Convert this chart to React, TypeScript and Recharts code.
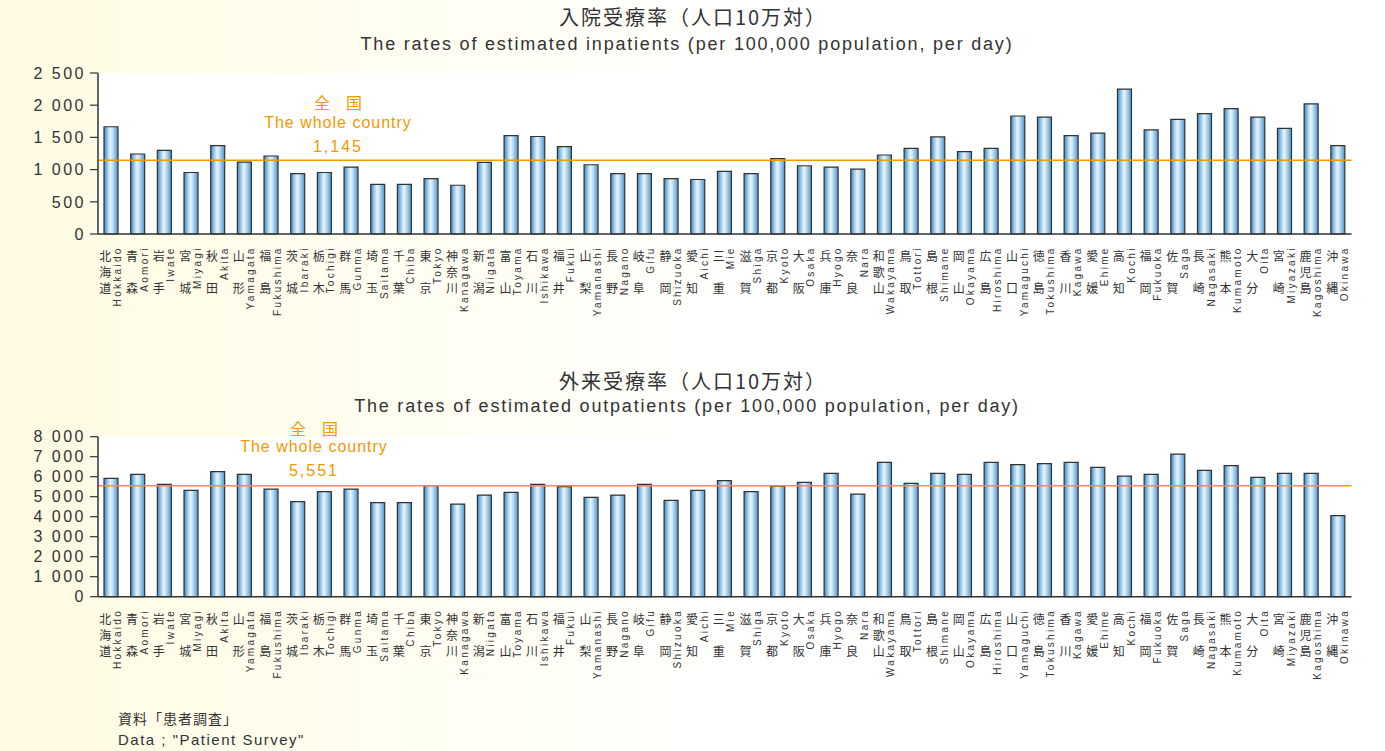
import React from "react";
import { BarChart, Bar, XAxis, YAxis, CartesianGrid, ReferenceLine } from "recharts";

const prefJa = [
  "北海道", "青森", "岩手", "宮城", "秋田", "山形", "福島", "茨城", "栃木", "群馬",
  "埼玉", "千葉", "東京", "神奈川", "新潟", "富山", "石川", "福井", "山梨", "長野",
  "岐阜", "静岡", "愛知", "三重", "滋賀", "京都", "大阪", "兵庫", "奈良", "和歌山",
  "鳥取", "島根", "岡山", "広島", "山口", "徳島", "香川", "愛媛", "高知", "福岡",
  "佐賀", "長崎", "熊本", "大分", "宮崎", "鹿児島", "沖縄",
];

const prefEn = [
  "Hokkaido", "Aomori", "Iwate", "Miyagi", "Akita", "Yamagata", "Fukushima", "Ibaraki", "Tochigi", "Gunma",
  "Saitama", "Chiba", "Tokyo", "Kanagawa", "Niigata", "Toyama", "Ishikawa", "Fukui", "Yamanashi", "Nagano",
  "Gifu", "Shizuoka", "Aichi", "Mie", "Shiga", "Kyoto", "Osaka", "Hyogo", "Nara", "Wakayama",
  "Tottori", "Shimane", "Okayama", "Hiroshima", "Yamaguchi", "Tokushima", "Kagawa", "Ehime", "Kochi", "Fukuoka",
  "Saga", "Nagasaki", "Kumamoto", "Oita", "Miyazaki", "Kagoshima", "Okinawa",
];

const inpatientRates = [
  1665, 1242, 1300, 955, 1373, 1117, 1211, 939, 955, 1039,
  772, 772, 861, 757, 1112, 1529, 1514, 1357, 1075, 939,
  939, 861, 846, 971, 939, 1169, 1060, 1039, 1007, 1227,
  1331, 1508, 1279, 1331, 1832, 1816, 1529, 1566, 2250, 1618,
  1780, 1868, 1947, 1816, 1639, 2020, 1373,
];

const outpatientRates = [
  5917, 6117, 5617, 5317, 6250, 6117, 5383, 4750, 5250, 5383,
  4700, 4700, 5550, 4633, 5083, 5217, 5617, 5500, 4967, 5083,
  5617, 4817, 5317, 5800, 5250, 5533, 5717, 6167, 5133, 6717,
  5667, 6167, 6117, 6717, 6600, 6650, 6717, 6467, 6033, 6117,
  7133, 6317, 6550, 5967, 6167, 6167, 4050,
];

const inpatientTicks = [0, 500, 1000, 1500, 2000, 2500];
const outpatientTicks = [0, 1000, 2000, 3000, 4000, 5000, 6000, 7000, 8000];
const inpatientNational = 1145;
const outpatientNational = 5551;

const LATIN = "'Liberation Sans', Arial, sans-serif";
const CJK = "'Noto Sans CJK JP', sans-serif";
const INK = "#333";
const ORANGE = "#F39800";

const spaced = (v: number) => String(v).replace(/\B(?=(\d{3})+(?!\d))/g, " ");

// two-character names keep the first and last slot, the middle stays empty
const stacked = (name: string) => (name.length === 2 ? name[0] + "　" + name[1] : name);

const PrefTick = (props: any) => {
  const { x, y, payload } = props;
  const i = prefJa.indexOf(payload.value);
  return (
    <g>
      <text
        x={x - 6}
        y={y + 16.5}
        fontSize={12}
        letterSpacing={4}
        fontFamily={CJK}
        fill={INK}
        style={{ writingMode: "vertical-rl" }}
      >
        {stacked(prefJa[i])}
      </text>
      <text
        transform={`translate(${x + 9.7},${y + 12.3}) rotate(-90)`}
        textAnchor="end"
        fontSize={10}
        letterSpacing={2.3}
        fontFamily={LATIN}
        fill={INK}
      >
        {prefEn[i]}
      </text>
    </g>
  );
};

const ValueTick = (props: any) => {
  const { x, y, payload } = props;
  return (
    <text x={x} y={y + 5.7} textAnchor="end" fontSize={16} letterSpacing={2.5} fontFamily={LATIN} fill={INK}>
      {spaced(payload.value)}
    </text>
  );
};

const NationalLabel = (props: any) => {
  const { viewBox, value, dx, offsets } = props;
  const cx = viewBox.x + dx;
  const y = viewBox.y;
  return (
    <g fill={ORANGE}>
      <text x={cx} y={y + offsets[0]} textAnchor="middle" fontSize={16} fontFamily={CJK}>全　国</text>
      <text x={cx} y={y + offsets[1]} textAnchor="middle" fontSize={16} letterSpacing={1} fontFamily={LATIN}>
        The whole country
      </text>
      <text x={cx} y={y + offsets[2]} textAnchor="middle" fontSize={16} letterSpacing={2} fontFamily={LATIN}>
        {value.toLocaleString("en-US")}
      </text>
    </g>
  );
};

type ChartProps = {
  rates: number[];
  ticks: number[];
  national: number;
  height: number;
  marginTop: number;
  xAxisHeight: number;
  labelDx: number;
  labelOffsets: number[];
  gradId: string;
};

const PrefChart = ({ rates, ticks, national, height, marginTop, xAxisHeight, labelDx, labelOffsets, gradId }: ChartProps) => {
  const data = prefJa.map((name, i) => ({ name, value: rates[i] }));
  return (
    <BarChart width={1385} height={height} data={data} margin={{ top: marginTop, right: 33.5, left: 0, bottom: 0 }}>
      <defs>
        <linearGradient id={gradId} x1="0" y1="0" x2="1" y2="0">
          <stop offset="0%" stopColor="#3A7FC0" />
          <stop offset="22%" stopColor="#8EC2E6" />
          <stop offset="45%" stopColor="#E8F4F8" />
          <stop offset="62%" stopColor="#C4E0F1" />
          <stop offset="100%" stopColor="#4A92CE" />
        </linearGradient>
      </defs>
      <CartesianGrid horizontal={false} vertical={false} fill="#fff" />
      <XAxis
        dataKey="name"
        interval={0}
        tick={<PrefTick />}
        tickSize={0}
        tickMargin={0}
        tickLine={false}
        height={xAxisHeight}
        axisLine={{ stroke: INK, strokeWidth: 1.5 }}
      />
      <YAxis
        type="number"
        domain={[ticks[0], ticks[ticks.length - 1]]}
        ticks={ticks}
        interval={0}
        width={98}
        tickSize={8}
        tickMargin={4}
        tick={<ValueTick />}
        tickLine={{ stroke: INK, strokeWidth: 1.2 }}
        axisLine={{ stroke: INK, strokeWidth: 1.5 }}
      />
      <Bar dataKey="value" barSize={14} fill={`url(#${gradId})`} stroke={INK} strokeWidth={1.2} isAnimationActive={false} />
      <ReferenceLine
        y={national}
        stroke={ORANGE}
        strokeWidth={1.6}
        label={(p: any) => <NationalLabel {...p} value={national} dx={labelDx} offsets={labelOffsets} />}
      />
    </BarChart>
  );
};

export default function App() {
  return (
    <div
      style={{
        position: "absolute",
        left: 0,
        top: 0,
        width: 1385,
        height: 751,
        overflow: "hidden",
        background: "linear-gradient(to right, #FFFBE2 0%, #FFFDEF 25%, #FFFFFF 55%)",
      }}
    >
      <div style={{ position: "absolute", left: 0, top: 0 }}>
        <PrefChart
          rates={inpatientRates}
          ticks={inpatientTicks}
          national={inpatientNational}
          height={330}
          marginTop={73}
          xAxisHeight={96}
          labelDx={240}
          labelOffsets={[-51, -32, -8.5]}
          gradId="inGrad"
        />
      </div>
      <div style={{ position: "absolute", left: 0, top: 330 }}>
        <PrefChart
          rates={outpatientRates}
          ticks={outpatientTicks}
          national={outpatientNational}
          height={421}
          marginTop={106.7}
          xAxisHeight={154.3}
          labelDx={216}
          labelOffsets={[-51, -34, -10]}
          gradId="outGrad"
        />
      </div>
      <svg width={1385} height={751} style={{ position: "absolute", left: 0, top: 0, pointerEvents: "none" }}>
        <g fill={INK} textAnchor="middle">
          <text x={693} y={25} fontSize={20} letterSpacing={2} fontFamily={CJK}>入院受療率（人口10万対）</text>
          <text x={687} y={50} fontSize={18} letterSpacing={1.8} fontFamily={LATIN}>
            The rates of estimated inpatients (per 100,000 population, per day)
          </text>
          <text x={693} y={389} fontSize={20} letterSpacing={2} fontFamily={CJK}>外来受療率（人口10万対）</text>
          <text x={687} y={412} fontSize={18} letterSpacing={1.8} fontFamily={LATIN}>
            The rates of estimated outpatients (per 100,000 population, per day)
          </text>
        </g>
        <text x={118} y={724} fontSize={14} letterSpacing={1} fontFamily={CJK} fill={INK}>資料「患者調査」</text>
        <text x={118} y={745} fontSize={15} letterSpacing={1.5} fontFamily={LATIN} fill={INK}>Data ; "Patient Survey"</text>
      </svg>
    </div>
  );
}
